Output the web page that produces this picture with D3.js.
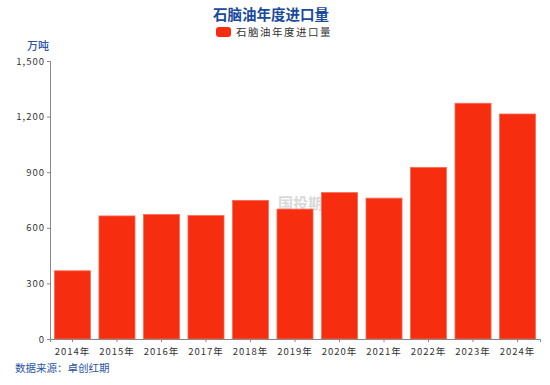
<!DOCTYPE html>
<html>
<head>
<meta charset="utf-8">
<script src="https://cdn.jsdelivr.net/npm/d3@7"></script>
<style>
  body { margin: 0; background: #fff; }
  svg text { font-family: "Noto Sans CJK SC", "DejaVu Sans", sans-serif; }
</style>
</head>
<body>
<svg id="chart" width="550" height="385"></svg>
<script>
const years = ["2014年","2015年","2016年","2017年","2018年","2019年","2020年","2021年","2022年","2023年","2024年"];
const imports = [368, 664, 672, 666, 748, 701, 790, 760, 926, 1272, 1214];
const yTicks = [0, 300, 600, 900, 1200, 1500];

const svg = d3.select("#chart");
const margin = { top: 61, right: 10, bottom: 46, left: 50 };
const W = 550, H = 385;

const x = d3.scaleBand().domain(years).range([margin.left, W - margin.right])
    .paddingInner(0.19).paddingOuter(0.1);
const y = d3.scaleLinear().domain([0, 1500]).range([H - margin.bottom, margin.top]);

// watermark
svg.append("text")
    .attr("x", 278).attr("y", 209)
    .attr("font-size", 15).attr("font-weight", "bold")
    .attr("fill", "#d9d9d9")
    .text("国投期货");

// bars
svg.append("g").selectAll("rect")
  .data(imports).enter()
  .append("rect")
    .attr("x", (d, i) => x(years[i]))
    .attr("y", d => y(d))
    .attr("width", x.bandwidth())
    .attr("height", d => y(0) - y(d))
    .attr("fill", "#f72d10")
    .attr("stroke", "#fb6a55")
    .attr("stroke-width", 0.8);

// axes
const yAxis = svg.append("g")
    .attr("transform", `translate(${margin.left},0)`)
    .call(d3.axisLeft(y).tickValues(yTicks).tickSize(3).tickFormat(d3.format(",")));
const xAxis = svg.append("g")
    .attr("transform", `translate(0,${H - margin.bottom})`)
    .call(d3.axisBottom(x).tickSize(3));

[yAxis, xAxis].forEach(a => {
    a.select(".domain").attr("stroke", "#888");
    a.selectAll(".tick line").attr("stroke", "#888");
    a.selectAll(".tick text").attr("fill", "#333").attr("font-size", 9.5)
        .style("letter-spacing", "1px");
});
yAxis.selectAll(".tick text").attr("x", -5);
xAxis.selectAll(".tick text").attr("dy", "1.1em");

// title
svg.append("text")
    .attr("x", 271).attr("y", 20)
    .attr("text-anchor", "middle")
    .attr("font-size", 14.5).attr("font-weight", "bold")
    .attr("fill", "#1a4a9c")
    .text("石脑油年度进口量");

// legend
svg.append("rect")
    .attr("x", 216).attr("y", 27).attr("width", 15).attr("height", 10)
    .attr("rx", 3).attr("fill", "#f72d10");
svg.append("text")
    .attr("x", 236).attr("y", 36)
    .attr("font-size", 10.5).attr("fill", "#333")
    .style("letter-spacing", "1.5px")
    .text("石脑油年度进口量");

// unit
svg.append("text")
    .attr("x", 27).attr("y", 50)
    .attr("font-size", 11).attr("fill", "#2a55a5")
    .attr("font-weight", 500)
    .text("万吨");

// source
svg.append("text")
    .attr("x", 15).attr("y", 372)
    .attr("font-size", 10.5).attr("fill", "#2a55a5")
    .text("数据来源：卓创红期");
</script>
</body>
</html>
